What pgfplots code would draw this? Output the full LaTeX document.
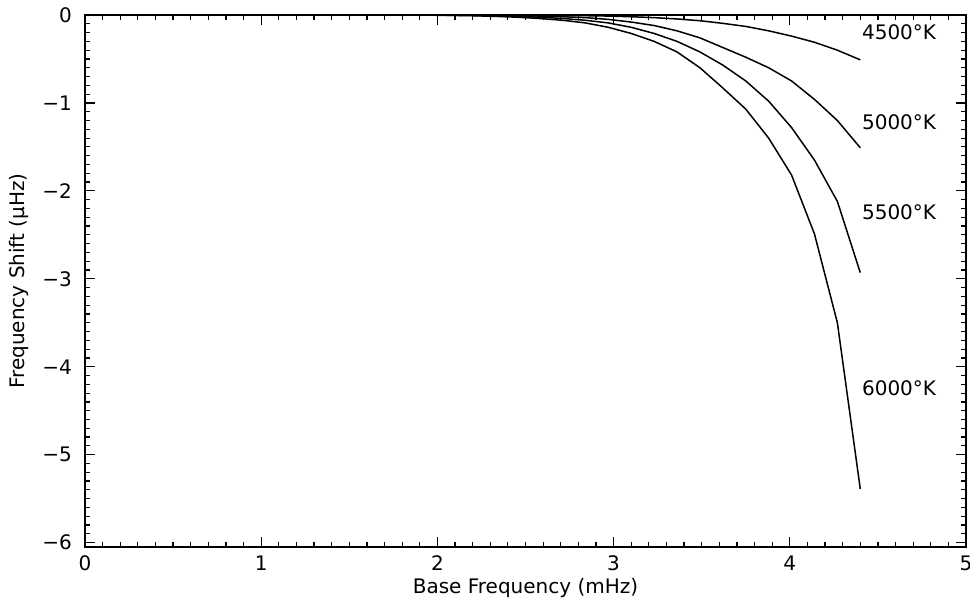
\documentclass[border=0pt]{standalone}
\usepackage{pgfplots}
\pgfplotsset{compat=1.18}
\usepackage{fontspec}
\setmainfont{DejaVu Sans}

% Frequency shift of the p modes versus base frequency, for four temperatures
\pgfplotstableread{
x      t4500   t5000   t5500   t6000
1.80   0.000   0.000   0.000   0.000
1.93   0.000   0.000  -0.001  -0.002
2.06   0.000  -0.001  -0.003  -0.004
2.19   0.000  -0.002  -0.005  -0.008
2.32  -0.001  -0.004  -0.010  -0.015
2.45  -0.002  -0.007  -0.015  -0.025
2.58  -0.003  -0.012  -0.025  -0.040
2.71  -0.005  -0.020  -0.040  -0.060
2.84  -0.008  -0.030  -0.060  -0.090
2.97  -0.012  -0.050  -0.090  -0.140
3.10  -0.020  -0.080  -0.140  -0.210
3.23  -0.030  -0.120  -0.210  -0.300
3.36  -0.045  -0.180  -0.300  -0.420
3.49  -0.065  -0.260  -0.420  -0.600
3.62  -0.095  -0.370  -0.570  -0.830
3.75  -0.130  -0.480  -0.750  -1.070
3.88  -0.180  -0.600  -0.980  -1.400
4.01  -0.240  -0.750  -1.280  -1.820
4.14  -0.310  -0.960  -1.650  -2.490
4.27  -0.400  -1.200  -2.120  -3.500
4.40  -0.510  -1.510  -2.930  -5.390
}\shifts

\begin{document}
\begin{tikzpicture}
\begin{axis}[
  scale only axis,
  width=440.5pt, height=266pt,
  xmin=0, xmax=5, ymin=-6.05, ymax=0,
  xtick={0,1,2,3,4,5},
  ytick={-6,-5,-4,-3,-2,-1,0},
  yticklabels={−6,−5,−4,−3,−2,−1,0},
  minor tick num=9,
  tick align=inside,
  xtick pos=both, ytick pos=both,
  major tick length=5pt, minor tick length=2.5pt,
  axis line style={line width=1pt},
  every tick/.style={black, line width=0.6pt},
  tick label style={font=\fontsize{10}{12}\selectfont},
  /pgf/number format/assume math mode=true,
  xticklabel style={yshift=-1pt},
  yticklabel style={xshift=-3pt},
  xlabel={Base Frequency (mHz)},
  ylabel={Frequency Shift (μHz)},
  label style={font=\fontsize{10}{12}\selectfont},
  xlabel style={yshift=3.5pt},
  ylabel style={yshift=0pt},
  clip=false,
]
\addplot[black, line width=0.75pt] table[x=x, y=t4500] {\shifts};
\addplot[black, line width=0.75pt] table[x=x, y=t5000] {\shifts};
\addplot[black, line width=0.75pt] table[x=x, y=t5500] {\shifts};
\addplot[black, line width=0.75pt] table[x=x, y=t6000] {\shifts};
\node[anchor=west, font=\fontsize{10}{12}\selectfont] at (axis cs:4.37,-0.20) {4500°K};
\node[anchor=west, font=\fontsize{10}{12}\selectfont] at (axis cs:4.37,-1.22) {5000°K};
\node[anchor=west, font=\fontsize{10}{12}\selectfont] at (axis cs:4.37,-2.24) {5500°K};
\node[anchor=west, font=\fontsize{10}{12}\selectfont] at (axis cs:4.37,-4.25) {6000°K};
\coordinate (sw) at (rel axis cs:0,0);
\coordinate (ne) at (rel axis cs:1,1);
\end{axis}
\pgfresetboundingbox
\path[use as bounding box] ([xshift=-42.5pt, yshift=-26pt]sw) rectangle ([xshift=2pt, yshift=7.5pt]ne);
\end{tikzpicture}
\end{document}
